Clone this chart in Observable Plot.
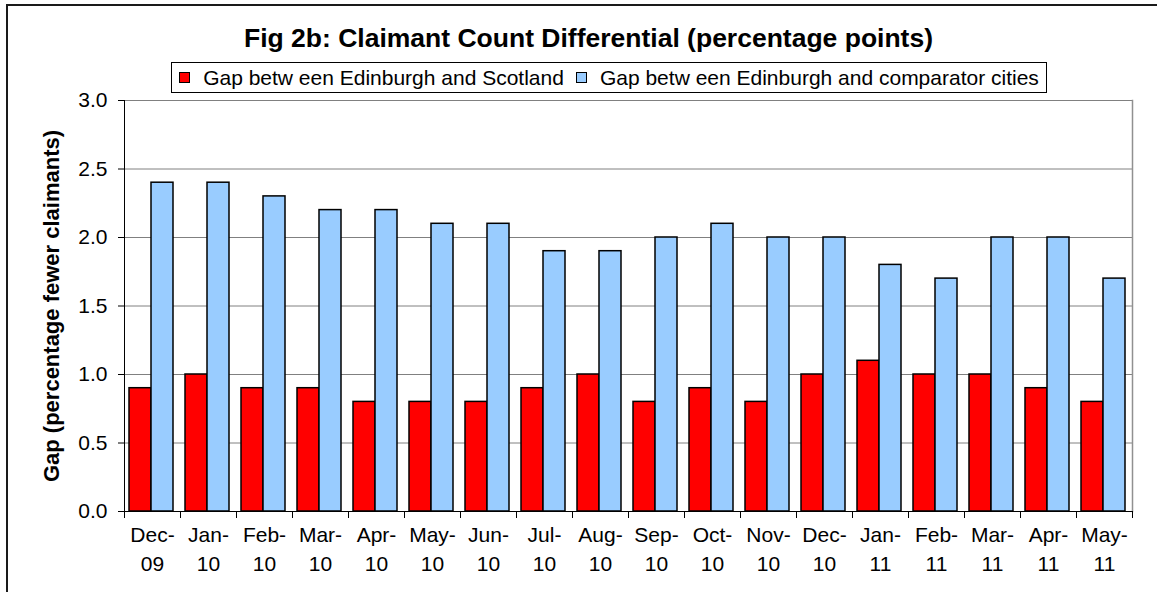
<!DOCTYPE html>
<html>
<head>
<meta charset="utf-8">
<script src="https://cdn.jsdelivr.net/npm/d3@7"></script>
<script src="https://cdn.jsdelivr.net/npm/@observablehq/plot@0.6"></script>
<style>
  body { margin: 0; background: #fff; font-family: Arial, "Liberation Sans", sans-serif; }
  #wrap { position: relative; width: 1157px; height: 592px; overflow: hidden; background: #fff; }
  #border { position: absolute; left: 6px; top: 4px; width: 1300px; height: 800px; border: 2px solid #1a1a1a; }
  #title { position: absolute; top: 23px; left: 10px; width: 1157px; text-align: center; font-weight: bold; font-size: 26.5px; line-height: 30px; color: #000; white-space: nowrap; }
  #legend { position: absolute; left: 171px; top: 62px; width: 874px; height: 29px; border: 1px solid #000; display: flex; align-items: center; justify-content: center; font-size: 21px; color: #000; background: #fff; }
  .item { display: flex; align-items: center; margin: 0 6px; white-space: pre; }
  .sw { width: 9px; height: 9px; border: 1px solid #000; margin-right: 13px; }
  #chart { position: absolute; left: 0; top: 90px; }
</style>
</head>
<body>
<div id="wrap">
  <div id="border"></div>
  <div id="title">Fig 2b: Claimant Count Differential (percentage points)</div>
  <div id="legend"></div>
  <div id="chart"></div>
</div>
<script>
const months = ["Dec-09","Jan-10","Feb-10","Mar-10","Apr-10","May-10","Jun-10","Jul-10","Aug-10","Sep-10","Oct-10","Nov-10","Dec-10","Jan-11","Feb-11","Mar-11","Apr-11","May-11"];
const scotlandGap   = [0.9,1.0,0.9,0.9,0.8,0.8,0.8,0.9,1.0,0.8,0.9,0.8,1.0,1.1,1.0,1.0,0.9,0.8];
const comparatorGap = [2.4,2.4,2.3,2.2,2.2,2.1,2.1,1.9,1.9,2.0,2.1,2.0,2.0,1.8,1.7,2.0,2.0,1.7];
const seriesNames = ["Gap betw een Edinburgh and Scotland", "Gap betw een Edinburgh and comparator cities"];
const seriesColors = ["#ff0000", "#99ccff"];
const yTicks = [0, 0.5, 1.0, 1.5, 2.0, 2.5, 3.0];
const yLabel = "Gap (percentage fewer claimants)";

const data = months.flatMap((m, i) => [
  {month: m, series: seriesNames[0], value: scotlandGap[i]},
  {month: m, series: seriesNames[1], value: comparatorGap[i]}
]);

// legend
const legend = document.getElementById("legend");
seriesNames.forEach((s, i) => {
  const it = document.createElement("div");
  it.className = "item";
  const sw = document.createElement("div");
  sw.className = "sw";
  sw.style.background = seriesColors[i];
  const t = document.createElement("span");
  t.textContent = s;
  it.appendChild(sw); it.appendChild(t);
  legend.appendChild(it);
});

const plotH = 502, mTop = 10, mBottom = 81;
const innerH = plotH - mTop - mBottom;

const chart = Plot.plot({
  width: 1157,
  height: plotH,
  marginLeft: 117,
  marginRight: 18,
  marginTop: mTop,
  marginBottom: mBottom,
  style: {fontFamily: "Arial, 'Liberation Sans', sans-serif", fontSize: "21px", color: "#000", background: "transparent", overflow: "visible"},
  fx: {domain: months, padding: 0, label: null},
  x: {domain: seriesNames, axis: null, paddingInner: 0, paddingOuter: 0.22, align: 0.42},
  y: {domain: [0, 3], label: null},
  color: {domain: seriesNames, range: seriesColors},
  marks: [
    Plot.gridY(yTicks, {stroke: "#808080", strokeOpacity: 1, strokeWidth: 1}),
    Plot.barY(data, {fx: "month", x: "series", y: "value", fill: "series", stroke: "#000", strokeWidth: 1.5}),
    Plot.frame({anchor: "right", facet: "super", stroke: "#909090", strokeWidth: 1.5}),
    Plot.frame({anchor: "left", facet: "super", stroke: "#000", strokeWidth: 1}),
    Plot.ruleY([0], {stroke: "#000", strokeWidth: 1}),
    Plot.frame({anchor: "left", insetTop: innerH, insetBottom: -6, stroke: "#000", strokeWidth: 1}),
    Plot.frame({anchor: "right", insetTop: innerH, insetBottom: -6, stroke: "#000", strokeWidth: 1}),
    Plot.axisY({ticks: yTicks, tickFormat: d3.format(".1f"), tickSize: 6, tickPadding: 11, label: null, fill: "#000", stroke: "#000", fontSize: 21}),
    Plot.text([yLabel], {facet: "super", frameAnchor: "left", dx: -73, rotate: -90, fontWeight: "bold", fontSize: 22, fill: "#000", textAnchor: "middle"}),
    Plot.axisFx({anchor: "bottom", tickSize: 0, tickPadding: 9, tickFormat: (m) => m.replace("-", "-\n"), lineHeight: 1.42, label: null, fill: "#000", fontSize: 21})
  ]
});
document.getElementById("chart").appendChild(chart);
</script>
</body>
</html>
